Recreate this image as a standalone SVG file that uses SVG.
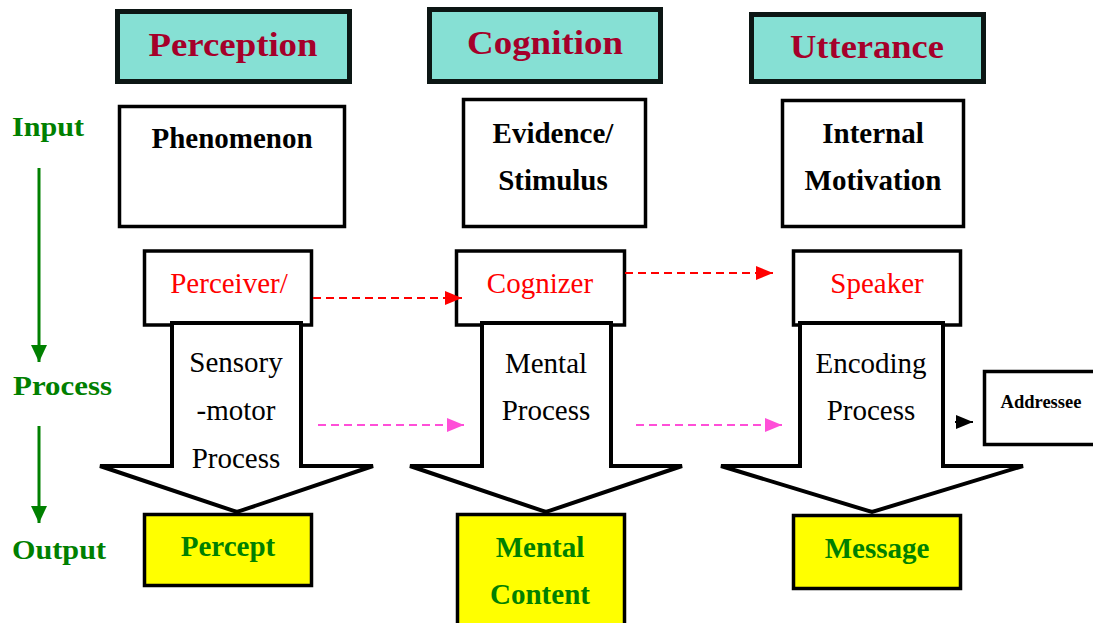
<svg xmlns="http://www.w3.org/2000/svg" width="1093" height="623" viewBox="0 0 1093 623">
<style>
.hdr{fill:#86e0d4;stroke:#0c1614;stroke-width:5}
.htxt{font-family:"Liberation Serif",serif;font-weight:bold;font-size:34px;fill:#a5002a;text-anchor:middle}
.box{fill:#fff;stroke:#000;stroke-width:3.5}
.btxt{font-family:"Liberation Serif",serif;font-weight:bold;font-size:29px;fill:#000;text-anchor:middle}
.rtxt{font-family:"Liberation Serif",serif;font-size:29px;fill:#f00;text-anchor:middle}
.ntxt{font-family:"Liberation Serif",serif;font-size:29px;fill:#000;text-anchor:middle}
.ybox{fill:#ffff00;stroke:#000;stroke-width:3.5}
.gtxt{font-family:"Liberation Serif",serif;font-weight:bold;font-size:29px;fill:#008000;text-anchor:middle}
.ltxt{font-family:"Liberation Serif",serif;font-weight:bold;font-size:28px;fill:#008000}
.barrow{fill:#fff;stroke:#000;stroke-width:4;stroke-linejoin:miter}
.red{stroke:#f00;stroke-width:2;stroke-dasharray:8 5;fill:none}
.pink{stroke:#ff4fd8;stroke-width:2;stroke-dasharray:8 5;fill:none}
.grn{stroke:#008000;stroke-width:3;fill:none}
</style>
<defs>
<marker id="mr" markerUnits="userSpaceOnUse" markerWidth="18" markerHeight="14" refX="17" refY="7" orient="auto"><path d="M0,0 L17,7 L0,14 Z" fill="#f00"/></marker>
<marker id="mp" markerUnits="userSpaceOnUse" markerWidth="18" markerHeight="14" refX="17" refY="7" orient="auto"><path d="M0,0 L17,7 L0,14 Z" fill="#ff4fd8"/></marker>
<marker id="mb" markerUnits="userSpaceOnUse" markerWidth="18" markerHeight="14" refX="17" refY="7" orient="auto"><path d="M0,0 L17,7 L0,14 Z" fill="#000"/></marker>
<marker id="mg" markerUnits="userSpaceOnUse" markerWidth="18" markerHeight="18" refX="17" refY="8" orient="auto"><path d="M0,0 L17,8 L0,16 Z" fill="#008000"/></marker>
</defs>

<g id="labels">
<text class="ltxt" x="12" y="136" textLength="72" lengthAdjust="spacingAndGlyphs">Input</text>
<text class="ltxt" x="13" y="395" textLength="99" lengthAdjust="spacingAndGlyphs">Process</text>
<text class="ltxt" x="12" y="559" textLength="94" lengthAdjust="spacingAndGlyphs">Output</text>
</g>

<g id="hdr-perception">
<rect class="hdr" x="117.5" y="11.5" width="232" height="70"/>
<text class="htxt" x="233" y="56" textLength="169" lengthAdjust="spacingAndGlyphs">Perception</text>
</g>
<g id="hdr-cognition">
<rect class="hdr" x="429.5" y="9.5" width="231" height="72"/>
<text class="htxt" x="545" y="54" textLength="156" lengthAdjust="spacingAndGlyphs">Cognition</text>
</g>
<g id="hdr-utterance">
<rect class="hdr" x="751.5" y="14.5" width="232" height="67"/>
<text class="htxt" x="867" y="58" textLength="154" lengthAdjust="spacingAndGlyphs">Utterance</text>
</g>

<g id="phenomenon">
<rect class="box" x="119.5" y="106.5" width="225" height="120"/>
<text class="btxt" x="232" y="148">Phenomenon</text>
</g>
<g id="evidence">
<rect class="box" x="463.5" y="99.5" width="182" height="127"/>
<text class="btxt" x="553" y="143">Evidence/</text>
<text class="btxt" x="553" y="190">Stimulus</text>
</g>
<g id="internal">
<rect class="box" x="782.5" y="100.5" width="181" height="126"/>
<text class="btxt" x="873" y="143">Internal</text>
<text class="btxt" x="873" y="190">Motivation</text>
</g>

<g id="perceiver">
<rect class="box" x="144.5" y="251" width="167" height="74"/>
<text class="rtxt" x="229" y="293">Perceiver/</text>
</g>
<g id="cognizer">
<rect class="box" x="456.5" y="251" width="168" height="74"/>
<text class="rtxt" x="540" y="293">Cognizer</text>
</g>
<g id="speaker">
<rect class="box" x="793.5" y="251" width="167" height="74"/>
<text class="rtxt" x="877" y="293">Speaker</text>
</g>

<g id="process1">
<polygon class="barrow" points="172,323 301,323 301,466 373,466 237,512 100,466 172,466"/>
<text class="ntxt" x="236" y="372">Sensory</text>
<text class="ntxt" x="236" y="420">-motor</text>
<text class="ntxt" x="236" y="468">Process</text>
</g>
<g id="process2">
<polygon class="barrow" points="482,323 611,323 611,466 682,466 546,512 410,466 482,466"/>
<text class="ntxt" x="546" y="373">Mental</text>
<text class="ntxt" x="546" y="420">Process</text>
</g>
<g id="process3">
<polygon class="barrow" points="800,323 943,323 943,466 1023,466 872,512 721,466 800,466"/>
<text class="ntxt" x="871" y="373">Encoding</text>
<text class="ntxt" x="871" y="420">Process</text>
</g>

<g id="addressee">
<rect class="box" x="984.5" y="371.5" width="112" height="73"/>
<text x="1041" y="408" font-family="Liberation Serif, serif" font-weight="bold" font-size="18.5" text-anchor="middle">Addressee</text>
</g>

<g id="percept">
<rect class="ybox" x="144.5" y="514.5" width="167" height="71"/>
<text class="gtxt" x="228" y="556">Percept</text>
</g>
<g id="mental-content">
<rect class="ybox" x="457.5" y="514.5" width="167" height="115"/>
<text class="gtxt" x="540" y="557">Mental</text>
<text class="gtxt" x="540" y="604">Content</text>
</g>
<g id="message">
<rect class="ybox" x="793.5" y="515.5" width="167" height="73"/>
<text class="gtxt" x="877" y="558">Message</text>
</g>

<g id="connectors">
<line class="grn" x1="39" y1="168" x2="39" y2="362" marker-end="url(#mg)"/>
<line class="grn" x1="39" y1="426" x2="39" y2="523" marker-end="url(#mg)"/>
<line class="red" x1="313" y1="298" x2="462" y2="298" marker-end="url(#mr)"/>
<line class="red" x1="625" y1="273" x2="773" y2="273" marker-end="url(#mr)"/>
<line class="pink" x1="318" y1="425" x2="464" y2="425" marker-end="url(#mp)"/>
<line class="pink" x1="636" y1="425" x2="782" y2="425" marker-end="url(#mp)"/>
<line x1="955" y1="422" x2="973" y2="422" stroke="#000" stroke-width="2" marker-end="url(#mb)"/>
</g>
</svg>
